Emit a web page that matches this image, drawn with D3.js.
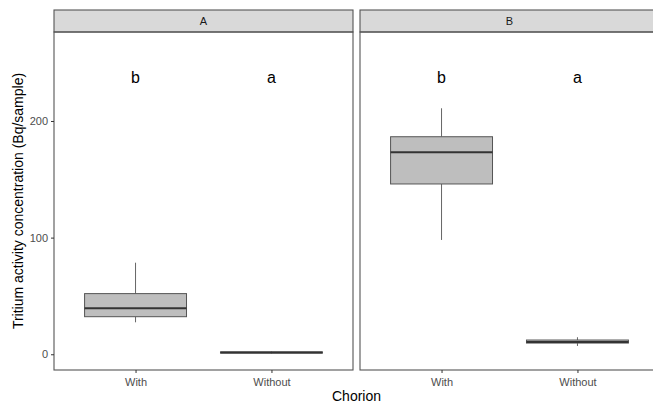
<!DOCTYPE html>
<html><head><meta charset="utf-8">
<script src="https://cdn.jsdelivr.net/npm/d3@7"></script>
<style>body{margin:0;background:#fff;}svg{display:block;font-family:"Liberation Sans",Arial,sans-serif;}</style>
</head><body><svg id="c" width="653" height="403"></svg>
<script>
const panels = ["A", "B"];
const categories = ["With", "Without"];
// box stats per panel: [lower whisker, q1, median, q3, upper whisker]
const statsA = [[27.4, 32.2, 39.4, 52, 78.5], [0.6, 1.0, 1.5, 2.0, 2.4]];
const statsB = [[98, 146, 173.1, 186.5, 210.9], [7.1, 9.6, 10.6, 12.2, 14.6]];
const lettersA = ["b", "a"];
const lettersB = ["b", "a"];
const letterY = 240;
const yTicks = [0, 100, 200];

(function () {
const svg = d3.select("#c");
const pTop = 32, pBottom = 370, stripTop = 10;
const panelX = [[54, 353], [360, 659]];
const y = d3.scaleLinear().domain([-13.5, 276.3]).range([pBottom, pTop]);
const data = {A: {stats: statsA, letters: lettersA}, B: {stats: statsB, letters: lettersB}};
const lineCol = "#555";

panels.forEach((p, i) => {
  const [x0, x1] = panelX[i];
  const xs = d3.scaleLinear().domain([0.4, 2.6]).range([x0, x1]);
  const g = svg.append("g");
  g.append("rect").attr("x", x0).attr("y", stripTop).attr("width", x1 - x0).attr("height", pTop - stripTop)
    .attr("fill", "#d9d9d9").attr("stroke", lineCol).attr("stroke-width", 1.1);
  g.append("text").attr("x", (x0 + x1) / 2).attr("y", (stripTop + pTop) / 2 + 4)
    .attr("text-anchor", "middle").attr("font-size", 11).attr("fill", "#1a1a1a").text(p);
  const bw = 0.75 * (xs(2) - xs(1));
  data[p].stats.forEach((s, j) => {
    const cx = xs(j + 1);
    g.append("line").attr("x1", cx).attr("x2", cx).attr("y1", y(s[4])).attr("y2", y(s[3]))
      .attr("stroke", "#666").attr("stroke-width", 1);
    g.append("line").attr("x1", cx).attr("x2", cx).attr("y1", y(s[1])).attr("y2", y(s[0]))
      .attr("stroke", "#666").attr("stroke-width", 1);
    g.append("rect").attr("x", cx - bw / 2).attr("y", y(s[3])).attr("width", bw)
      .attr("height", Math.max(0.5, y(s[1]) - y(s[3])))
      .attr("fill", "#bebebe").attr("stroke", "#555").attr("stroke-width", 1);
    g.append("line").attr("x1", cx - bw / 2).attr("x2", cx + bw / 2).attr("y1", y(s[2])).attr("y2", y(s[2]))
      .attr("stroke", "#333").attr("stroke-width", 2);
    g.append("text").attr("x", cx).attr("y", y(letterY) + 9).attr("text-anchor", "middle")
      .attr("font-size", 16).attr("fill", "#000").text(data[p].letters[j]);
  });
  g.append("rect").attr("x", x0).attr("y", pTop).attr("width", x1 - x0).attr("height", pBottom - pTop)
    .attr("fill", "none").attr("stroke", lineCol).attr("stroke-width", 1.1);
  const xa = svg.append("g").attr("transform", `translate(0,${pBottom})`)
    .call(d3.axisBottom(xs).tickValues([1, 2]).tickFormat((d) => categories[d - 1]).tickSize(3).tickPadding(5));
  xa.select(".domain").remove();
  xa.selectAll("line").attr("stroke", "#333");
  xa.selectAll("text").attr("font-size", 11).attr("fill", "#4d4d4d").attr("font-family", "Liberation Sans, Arial, sans-serif");
});

const ya = svg.append("g").attr("transform", `translate(${panelX[0][0]},0)`)
  .call(d3.axisLeft(y).tickValues(yTicks).tickSize(3).tickPadding(3));
ya.select(".domain").remove();
ya.selectAll("line").attr("stroke", "#333");
ya.selectAll("text").attr("font-size", 11).attr("fill", "#4d4d4d").attr("font-family", "Liberation Sans, Arial, sans-serif");

svg.append("text").attr("transform", `translate(23,${(pTop + pBottom) / 2}) rotate(-90)`)
  .attr("text-anchor", "middle").attr("font-size", 14).attr("fill", "#000")
  .text("Tritium activity concentration (Bq/sample)");
svg.append("text").attr("x", (panelX[0][0] + panelX[1][1]) / 2).attr("y", 401)
  .attr("text-anchor", "middle").attr("font-size", 14).attr("fill", "#000").text("Chorion");
})();
</script></body></html>
